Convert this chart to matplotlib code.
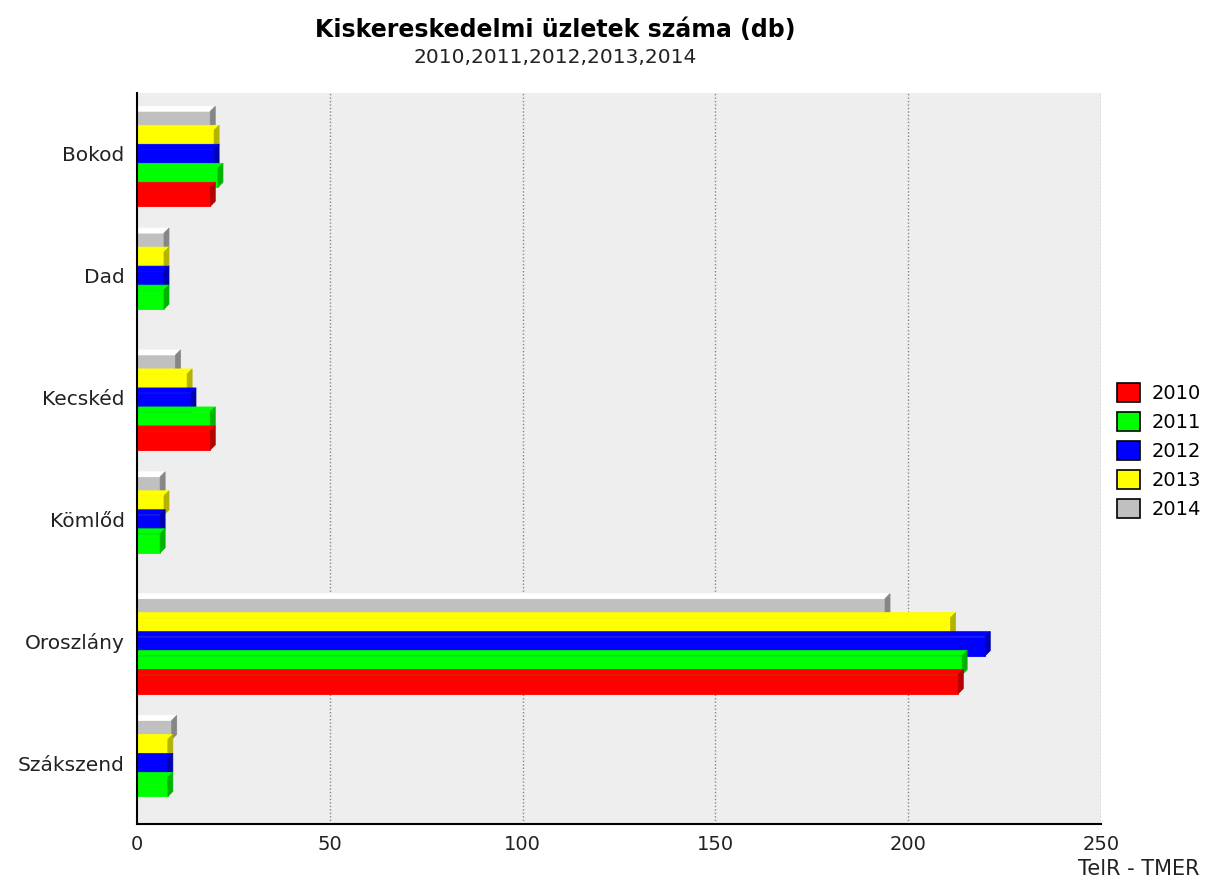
import numpy as np
import matplotlib
matplotlib.use("Agg")
import matplotlib.pyplot as plt
from matplotlib.patches import Polygon, Patch
from matplotlib.colors import to_rgb

# ==================================================================
TITLE = "Kiskereskedelmi üzletek száma (db)"
SUBTITLE = "2010,2011,2012,2013,2014"
SOURCE = "TelR - TMER"

CATEGORIES = ["Bokod", "Dad", "Kecskéd", "Kömlőd", "Oroszlány", "Szákszend"]
YEARS = ["2010", "2011", "2012", "2013", "2014"]

V2010 = [19, np.nan, 19, np.nan, 213, np.nan]
V2011 = [21, 7, 19, 6, 214, 8]
V2012 = [20, 7, 14, 6, 220, 8]
V2013 = [20, 7, 13, 7, 211, 8]
V2014 = [19, 7, 10, 6, 194, 9]

COLORS = ["#ff0000", "#00ff00", "#0000ff", "#ffff00", "#c0c0c0"]

X_TICKS = [0, 50, 100, 150, 200, 250]
SAVE_PLOT_PATH = "out.png"
# ==================================================================


def shade(color, k):
    r, g, b = to_rgb(color)
    return (r * k, g * k, b * k)


def main():
    series = [V2010, V2011, V2012, V2013, V2014]

    fig = plt.figure(figsize=(12.06, 8.88), dpi=100)
    ax = fig.add_axes([0.1136, 0.0721, 0.7993, 0.8232])
    ax.set_facecolor("#eeeeee")

    n_cat = len(CATEGORIES)
    ax.set_xlim(0, 250)
    ax.set_ylim(-0.5, n_cat - 0.5)

    h = 0.156                 # bar thickness in category units
    dx = 5 / 3.856            # 3D depth, x (data units)
    dy = 0.041                # 3D depth, y (data units)
    shift = -0.04

    # draw from top series (2014) down so lower bars overlap upper ones
    for j in reversed(range(len(series))):
        col = COLORS[j]
        top_col = "#ffffff" if j == len(series) - 1 else col
        dark = shade(col, 0.7)
        for i, v in enumerate(series[j]):
            if np.isnan(v):
                continue
            pos = n_cat - 1 - i
            b = pos + shift - 2.5 * h + j * h
            ax.barh(b, v, height=h, align="edge", color=col,
                    edgecolor=col, linewidth=0.6, zorder=3)
            top = Polygon([(0, b + h), (0, b + h + dy), (v + dx, b + h + dy), (v, b + h)],
                          closed=True, facecolor=top_col, edgecolor=top_col,
                          linewidth=0.5, zorder=3)
            side = Polygon([(v, b), (v + dx, b + dy), (v + dx, b + h + dy), (v, b + h)],
                           closed=True, facecolor=dark, edgecolor=dark,
                           linewidth=0.5, zorder=3)
            ax.add_patch(top)
            ax.add_patch(side)

    ax.set_yticks(range(n_cat))
    ax.set_yticklabels(CATEGORIES[::-1], fontsize=14.5, color="#222222")
    ax.set_xticks(X_TICKS)
    ax.set_xticklabels([str(t) for t in X_TICKS], fontsize=14, color="#222222")
    ax.tick_params(axis="both", length=0)
    ax.tick_params(axis="y", pad=9)
    ax.tick_params(axis="x", pad=8)

    for t in X_TICKS[1:]:
        ax.axvline(t, color="#888888", linestyle=(0, (1, 1.5)), linewidth=1, zorder=1)

    for s in ["top", "right"]:
        ax.spines[s].set_visible(False)
    for s in ["left", "bottom"]:
        ax.spines[s].set_color("black")
        ax.spines[s].set_linewidth(1.5)
        ax.spines[s].set_zorder(5)

    fig.text(0.46, 0.966, TITLE, ha="center", va="center",
             fontsize=17, fontweight="bold", color="black")
    fig.text(0.46, 0.935, SUBTITLE, ha="center", va="center",
             fontsize=14.5, color="#222222")
    fig.text(0.995, 0.01, SOURCE, ha="right", va="bottom",
             fontsize=15, color="#222222")

    handles = [Patch(facecolor=c, edgecolor="black", linewidth=1.2, label=y)
               for c, y in zip(COLORS, YEARS)]
    fig.legend(handles=handles, loc="center left", bbox_to_anchor=(0.92, 0.492),
               frameon=False, fontsize=14, handlelength=1.15, handleheight=1.15,
               handletextpad=0.6, labelspacing=0.45, borderaxespad=0)

    plt.savefig(SAVE_PLOT_PATH, dpi=100)


if __name__ == "__main__":
    main()
